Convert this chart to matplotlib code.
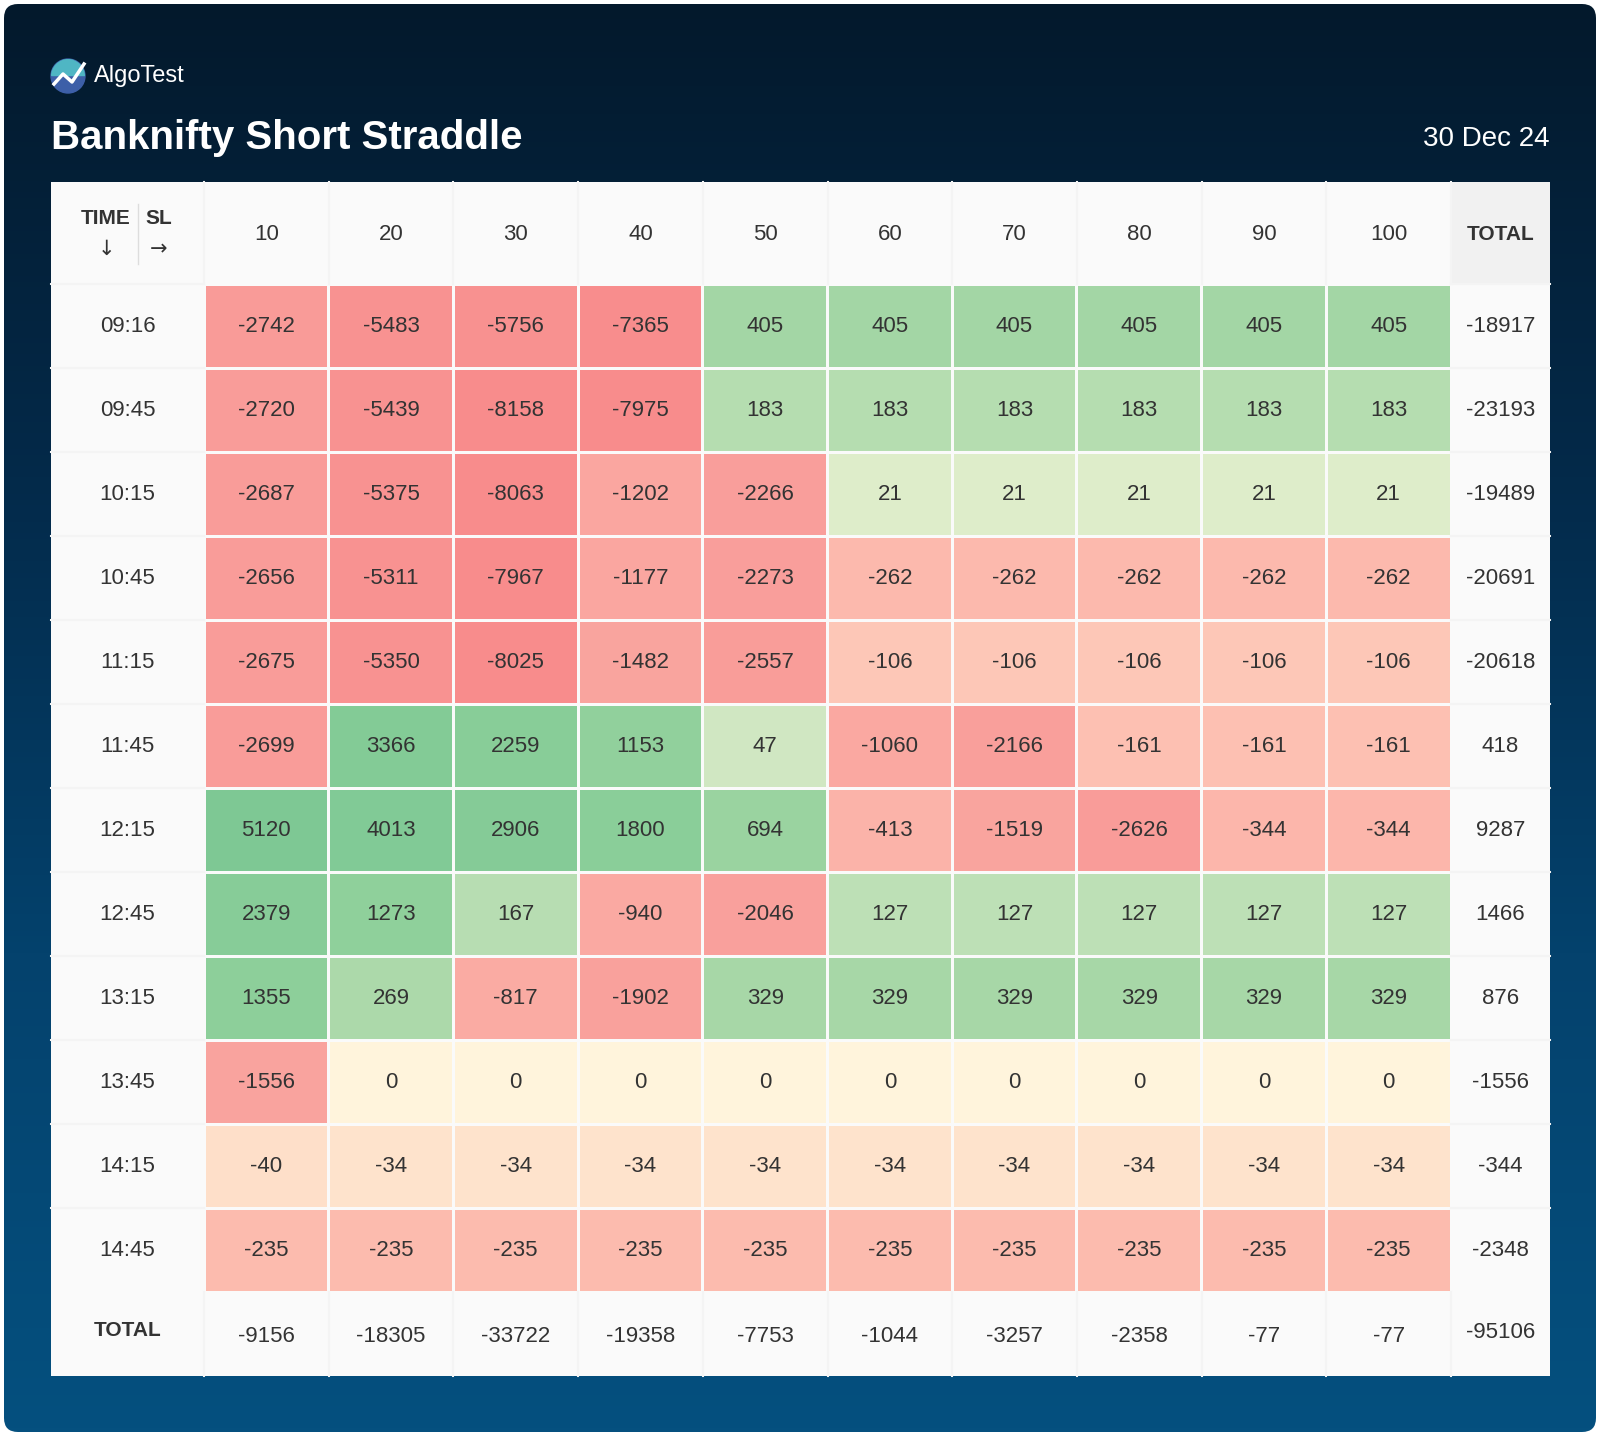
import matplotlib
matplotlib.use('Agg')
import matplotlib.pyplot as plt
import numpy as np
from matplotlib.colors import LinearSegmentedColormap
from matplotlib.patches import Rectangle, FancyBboxPatch, Circle

plt.rcParams['font.family'] = ['Liberation Sans', 'DejaVu Sans']

sl_levels = ['10', '20', '30', '40', '50', '60', '70', '80', '90', '100']
times = ['09:16', '09:45', '10:15', '10:45', '11:15', '11:45', '12:15', '12:45', '13:15', '13:45', '14:15', '14:45']
values = np.array([
	[-2742, -5483, -5756, -7365, 405, 405, 405, 405, 405, 405],
	[-2720, -5439, -8158, -7975, 183, 183, 183, 183, 183, 183],
	[-2687, -5375, -8063, -1202, -2266, 21, 21, 21, 21, 21],
	[-2656, -5311, -7967, -1177, -2273, -262, -262, -262, -262, -262],
	[-2675, -5350, -8025, -1482, -2557, -106, -106, -106, -106, -106],
	[-2699, 3366, 2259, 1153, 47, -1060, -2166, -161, -161, -161],
	[5120, 4013, 2906, 1800, 694, -413, -1519, -2626, -344, -344],
	[2379, 1273, 167, -940, -2046, 127, 127, 127, 127, 127],
	[1355, 269, -817, -1902, 329, 329, 329, 329, 329, 329],
	[-1556, 0, 0, 0, 0, 0, 0, 0, 0, 0],
	[-40, -34, -34, -34, -34, -34, -34, -34, -34, -34],
	[-235, -235, -235, -235, -235, -235, -235, -235, -235, -235],
])
row_totals = [-18917, -23193, -19489, -20691, -20618, 418, 9287, 1466, 876, -1556, -344, -2348]
col_totals = [-9156, -18305, -33722, -19358, -7753, -1044, -3257, -2358, -77, -77]
grand_total = -95106

reds = LinearSegmentedColormap.from_list('r', ['#fee6cf', '#fdc3b4', '#fbb1a7', '#f9a09c', '#f88c8c'])
greens = LinearSegmentedColormap.from_list('g', ['#deedca', '#c6e3bc', '#a6d7a6', '#8dcf9a', '#7dc894'])
vmax = np.log10(1 + 8158)


def cell_color(v):
	if v == 0:
		return '#fff4dc'
	t = np.log10(1 + abs(v)) / vmax
	if v < 0:
		return reds(np.clip((t - 0.38) / 0.62, 0, 1))
	return greens(np.clip((t - 0.34) / 0.62, 0, 1))


W, H = 1600, 1436
fig = plt.figure(figsize=(W / 100, H / 100), dpi=100, facecolor='white')
ax = fig.add_axes([0, 0, 1, 1])
ax.set_xlim(0, W)
ax.set_ylim(H, 0)
ax.axis('off')

# background gradient
grad = np.linspace(0, 1, 256)[:, None]
bg_cmap = LinearSegmentedColormap.from_list('bg', ['#03192c', '#032a4a', '#04426d', '#05507f'])
im = ax.imshow(grad, cmap=bg_cmap, extent=[2, W - 2, H - 2, 2], aspect='auto', zorder=0)
clip = FancyBboxPatch((4, 4), W - 8, H - 8, boxstyle='round,pad=0,rounding_size=14', transform=ax.transData, facecolor='none', edgecolor='none')
ax.add_patch(clip)
im.set_clip_path(clip)

# logo + titles
ax.add_patch(Circle((68, 76), 17, color='#3d5fa8', zorder=2))
ax.add_patch(Rectangle((51, 59), 34, 16, color='#4fb6c4', zorder=2, clip_path=Circle((68, 76), 17, transform=ax.transData)))
ax.plot([54, 63, 72, 84], [84, 74, 82, 64], color='white', lw=2.5, zorder=3)
ax.text(94, 76, 'AlgoTest', color='white', fontsize=17, va='center', ha='left')
ax.text(51, 138, 'Banknifty Short Straddle', color='white', fontsize=29, fontweight='bold', va='center', ha='left')
ax.text(1550, 139, '30 Dec 24', color='white', fontsize=20, va='center', ha='right')

# table geometry
left, right, top = 51, 1550, 182
head_h, row_h = 102, 84
time_w, tot_w = 153, 99
col_w = (right - left - time_w - tot_w) / len(sl_levels)
data_top = top + head_h
n_rows = len(times)
bottom = data_top + row_h * (n_rows + 1)
ax.add_patch(Rectangle((left, top), right - left, bottom - top, facecolor='#fafafa', edgecolor='none', zorder=1))
ax.add_patch(Rectangle((right - tot_w, top), tot_w, head_h, facecolor='#f1f1f1', edgecolor='none', zorder=1))

txt = '#333333'
fs = 16
# header
ax.text(left + 55, top + 36, 'TIME', fontsize=15, fontweight='bold', color=txt, ha='center', va='center')
ax.text(left + 108, top + 36, 'SL', fontsize=15, fontweight='bold', color=txt, ha='center', va='center')
ax.text(left + 55, top + 67, '↓', fontsize=15, color=txt, ha='center', va='center', family='DejaVu Sans')
ax.text(left + 108, top + 67, '→', fontsize=15, color=txt, ha='center', va='center', family='DejaVu Sans')
ax.plot([left + 87, left + 87], [top + 22, top + 82], color='#dddddd', lw=1, zorder=2)
for j, s in enumerate(sl_levels):
	ax.text(left + time_w + col_w * (j + 0.5), top + head_h / 2 + 2, s, fontsize=fs, color=txt, ha='center', va='center')
ax.text(right - tot_w / 2, top + head_h / 2 + 2, 'TOTAL', fontsize=15, fontweight='bold', color=txt, ha='center', va='center')

gap = 3
for i, t in enumerate(times):
	y = data_top + row_h * i
	ax.text(left + time_w / 2, y + row_h / 2, t, fontsize=fs, color=txt, ha='center', va='center')
	for j in range(len(sl_levels)):
		x = left + time_w + col_w * j
		ax.add_patch(Rectangle((x + gap / 2, y + gap / 2), col_w - gap, row_h - gap, facecolor=cell_color(values[i, j]), edgecolor='none', zorder=2))
		ax.text(x + col_w / 2, y + row_h / 2, str(values[i, j]), fontsize=fs, color=txt, ha='center', va='center', zorder=3)
	ax.text(right - tot_w / 2, y + row_h / 2, str(row_totals[i]), fontsize=fs, color=txt, ha='center', va='center')
	ax.plot([left, left + time_w], [y, y], color='#f4f4f4', lw=1.5, zorder=2)
	ax.plot([right - tot_w, right], [y, y], color='#f4f4f4', lw=1.5, zorder=2)

y = data_top + row_h * n_rows
ax.text(left + time_w / 2, y + row_h / 2 - 3, 'TOTAL', fontsize=15, fontweight='bold', color=txt, ha='center', va='center')
for j, v in enumerate(col_totals):
	ax.text(left + time_w + col_w * (j + 0.5), y + row_h / 2 + 2, str(v), fontsize=fs, color=txt, ha='center', va='center')
ax.text(right - tot_w / 2, y + row_h / 2 - 1, str(grand_total), fontsize=fs, color=txt, ha='center', va='center')
for j in range(len(sl_levels) + 1):
	x = left + time_w + col_w * j
	ax.plot([x, x], [top, data_top], color='#f4f4f4', lw=1.5, zorder=2)
	ax.plot([x, x], [y, bottom], color='#f4f4f4', lw=1.5, zorder=2)

fig.savefig('out.png', dpi=100, facecolor='white')
